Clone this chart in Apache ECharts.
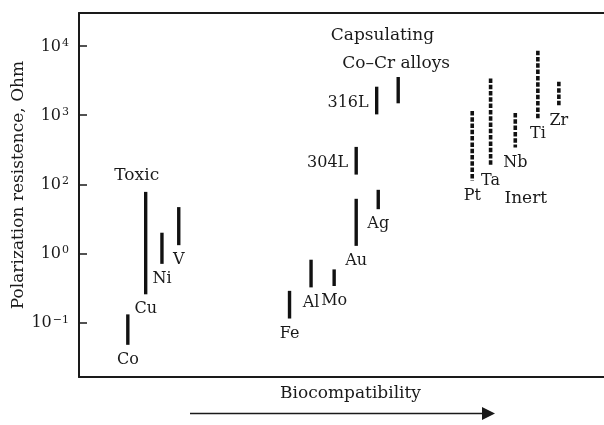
<!DOCTYPE html>
<html>
<head>
<meta charset="utf-8">
<script src="https://cdn.jsdelivr.net/npm/echarts@6/dist/echarts.min.js"></script>
<style>html,body{margin:0;padding:0;background:#fff}#c{width:604px;height:425px}</style>
</head>
<body>
<div id="c"></div>
<script>
// Axis positions: y is measured in tick steps (0 = 10^-1, 1 = 10^0, 2 = 10^2, 3 = 10^3, 4 = 10^4)
const yTickPositions = [0, 1, 2, 3, 4];
const yTickExponents = ['\u22121', '0', '2', '3', '4'];

// Materials (x along biocompatibility, 0..100; y range low/high in tick steps)
const names  = ['Co', 'Cu', 'Ni', 'V', 'Fe', 'Al', 'Mo', 'Au', 'Ag', '304L', '316L', 'Co\u2013Cr', 'Pt', 'Ta', 'Nb', 'Ti', 'Zr'];
const labels = ['Co', 'Cu', 'Ni', 'V', 'Fe', 'Al', 'Mo', 'Au', 'Ag', '304L', '316L', '', 'Pt', 'Ta', 'Nb', 'Ti', 'Zr'];
const groups = ['toxic','toxic','toxic','toxic','capsulating','capsulating','capsulating','capsulating','capsulating','capsulating','capsulating','capsulating','inert','inert','inert','inert','inert'];
const xPos   = [9.3, 12.7, 15.8, 19.0, 40.1, 44.2, 48.6, 52.8, 57.0, 52.8, 56.7, 60.8, 74.9, 78.4, 83.1, 87.4, 91.4];
const lows   = [-0.32, 0.41, 0.85, 1.12, 0.06, 0.51, 0.53, 1.11, 1.64, 2.14, 3.01, 3.17, 2.05, 2.26, 2.53, 2.94, 3.13];
const highs  = [0.12, 1.89, 1.30, 1.67, 0.46, 0.91, 0.77, 1.79, 1.92, 2.54, 3.41, 3.55, 3.06, 3.53, 3.03, 3.93, 3.48];

// Group annotations
const noteTexts = ['Toxic', 'Capsulating', 'Co\u2013Cr alloys', 'Inert'];
const noteX     = [11.0, 57.8, 60.4, 85.1];
const noteY     = [2.13, 4.15, 3.75, 1.80];

const FONT = '"DejaVu Serif", serif';
const INK = '#1a1a1a';
const leftLabeled = ['304L', '316L'];

const chart = echarts.init(document.getElementById('c'), null, {renderer: 'canvas'});

const barData = names.map((n, i) => [xPos[i], lows[i], highs[i], i]);
const noteData = noteTexts.map((t, i) => [noteX[i], noteY[i], i]);

const option = {
  animation: false,
  backgroundColor: '#fff',
  grid: {left: 79, right: 0, top: 13, bottom: 48, outerBoundsMode: 'none', containLabel: false},
  xAxis: [
    {type: 'value', min: 0, max: 100, position: 'bottom',
     axisLine: {show: true, onZero: false, lineStyle: {color: INK, width: 2}},
     axisTick: {show: false}, axisLabel: {show: false}, splitLine: {show: false}},
    {type: 'value', min: 0, max: 100, position: 'top',
     axisLine: {show: true, onZero: false, lineStyle: {color: INK, width: 2}},
     axisTick: {show: false}, axisLabel: {show: false}, splitLine: {show: false}}
  ],
  yAxis: {
    type: 'value', min: -0.785, max: 4.475,
    name: 'Polarization resistence, Ohm',
    nameLocation: 'middle', nameGap: 52, nameRotate: 90, nameMoveOverlap: false,
    nameTextStyle: {fontFamily: FONT, fontSize: 17, color: INK, padding: [0, 0, 0, 20]},
    axisLine: {show: true, onZero: false, lineStyle: {color: INK, width: 2}},
    axisTick: {show: true, inside: true, length: 8, lineStyle: {color: INK, width: 1.5}, customValues: yTickPositions},
    splitLine: {show: false},
    axisLabel: {
      show: true, margin: 10, customValues: yTickPositions,
      formatter: v => '{b|10}{s|' + yTickExponents[Math.round(v)] + '}',
      rich: {
        b: {fontFamily: FONT, fontSize: 16, color: INK, verticalAlign: 'bottom'},
        s: {fontFamily: FONT, fontSize: 11, color: INK, verticalAlign: 'top', padding: [0, 0, 6, 1]}
      }
    }
  },
  series: [
    {
      type: 'custom',
      data: barData,
      encode: {x: 0, y: [1, 2]},
      renderItem: function (params, api) {
        const i = api.value(3);
        const top = api.coord([api.value(0), api.value(2)]);
        const bot = api.coord([api.value(0), api.value(1)]);
        const dashed = groups[i] === 'inert';
        const children = [{
          type: 'line',
          shape: {x1: top[0], y1: top[1], x2: bot[0], y2: bot[1]},
          style: {stroke: '#111', lineWidth: dashed ? 3.6 : 3.4, lineDash: dashed ? [4.5, 1.8] : null, lineCap: 'butt'}
        }];
        if (labels[i]) {
          const left = leftLabeled.indexOf(labels[i]) >= 0;
          children.push({
            type: 'text',
            x: left ? top[0] - 8 : bot[0],
            y: left ? (top[1] + bot[1]) / 2 + 2 : bot[1] + 15,
            style: {text: labels[i], fontFamily: FONT, fontSize: 16, fill: INK,
                    align: left ? 'right' : 'center', verticalAlign: 'middle'}
          });
        }
        return {type: 'group', children: children};
      }
    },
    {
      type: 'custom',
      data: noteData,
      encode: {x: 0, y: 1},
      renderItem: function (params, api) {
        const i = api.value(2);
        const p = api.coord([api.value(0), api.value(1)]);
        return {
          type: 'text', x: p[0], y: p[1],
          style: {text: noteTexts[i], fontFamily: FONT, fontSize: 17, fill: INK, align: 'center', verticalAlign: 'middle'}
        };
      }
    }
  ],
  graphic: [
    {type: 'text', left: 280, top: 385,
     style: {text: 'Biocompatibility', fontFamily: FONT, fontSize: 17, fill: INK}},
    {type: 'line', shape: {x1: 190, y1: 413.5, x2: 484, y2: 413.5}, style: {stroke: INK, lineWidth: 1.5}},
    {type: 'polygon', shape: {points: [[482, 407], [495, 413.5], [482, 420]]}, style: {fill: INK}}
  ]
};
chart.setOption(option);
</script>
</body>
</html>
